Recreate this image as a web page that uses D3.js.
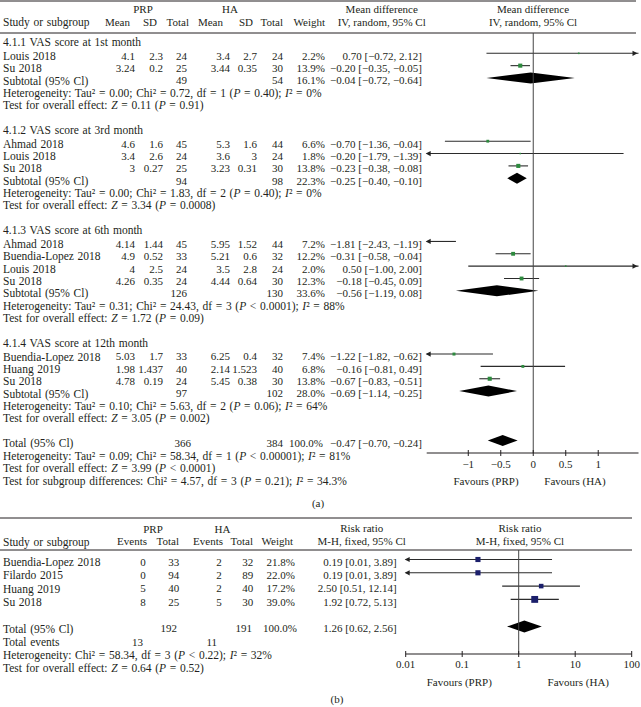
<!DOCTYPE html>
<html>
<head>
<meta charset="utf-8">
<script src="https://cdn.jsdelivr.net/npm/d3@7"></script>
<style>
  body { margin: 0; background: #fff; }
  text { font-family: "Liberation Serif", "Times New Roman", serif; font-size: 11px; fill: #231f20; }
  text.lbl { font-size: 11.5px; word-spacing: 0.8px; }
</style>
</head>
<body>
<svg id="chart" width="641" height="707"></svg>
<script>
// ---------- panel (a): mean difference, VAS ----------
var groupTitles = ["4.1.1 VAS score at 1st month", "4.1.2 VAS score at 3rd month",
                   "4.1.3 VAS score at 6th month", "4.1.4 VAS score at 12th month"];
var studyGroup = [0, 0, 1, 1, 1, 2, 2, 2, 2, 3, 3, 3];
var studyNames = ["Louis 2018", "Su 2018", "Ahmad 2018", "Louis 2018", "Su 2018", "Ahmad 2018",
                  "Buendia-Lopez 2018", "Louis 2018", "Su 2018", "Buendia-Lopez 2018", "Huang 2019", "Su 2018"];
var prpMean = [4.1, 3.24, 4.6, 3.4, 3, 4.14, 4.9, 4, 4.26, 5.03, 1.98, 4.78];
var prpSD   = [2.3, 0.2, 1.6, 2.6, 0.27, 1.44, 0.52, 2.5, 0.35, 1.7, 1.437, 0.19];
var prpN    = [24, 25, 45, 24, 25, 45, 33, 24, 24, 33, 40, 24];
var haMean  = [3.4, 3.44, 5.3, 3.6, 3.23, 5.95, 5.21, 3.5, 4.44, 6.25, 2.14, 5.45];
var haSD    = [2.7, 0.35, 1.6, 3, 0.31, 1.52, 0.6, 2.8, 0.64, 0.4, 1.523, 0.38];
var haN     = [24, 30, 44, 24, 30, 44, 32, 24, 30, 32, 40, 30];
var weights = [2.2, 13.9, 6.6, 1.8, 13.8, 7.2, 12.2, 2.0, 12.3, 7.4, 6.8, 13.8];
var md      = [0.70, -0.20, -0.70, -0.20, -0.23, -1.81, -0.31, 0.50, -0.18, -1.22, -0.16, -0.67];
var mdLo    = [-0.72, -0.35, -1.36, -1.79, -0.38, -2.43, -0.58, -1.00, -0.45, -1.82, -0.81, -0.83];
var mdHi    = [2.12, -0.05, -0.04, 1.39, -0.08, -1.19, -0.04, 2.00, 0.09, -0.62, 0.49, -0.51];
var mdText  = ["0.70 [−0.72, 2.12]", "−0.20 [−0.35, −0.05]", "−0.70 [−1.36, −0.04]", "−0.20 [−1.79, −1.39]",
               "−0.23 [−0.38, −0.08]", "−1.81 [−2.43, −1.19]", "−0.31 [−0.58, −0.04]", "0.50 [−1.00, 2.00]",
               "−0.18 [−0.45, 0.09]", "−1.22 [−1.82, −0.62]", "−0.16 [−0.81, 0.49]", "−0.67 [−0.83, −0.51]"];

var subPrpN   = [49, 94, 126, 97];
var subHaN    = [54, 98, 130, 102];
var subWeight = [16.1, 22.3, 33.6, 28.0];
var subEst    = [-0.04, -0.25, -0.56, -0.69];
var subLo     = [-0.72, -0.40, -1.19, -1.14];
var subHi     = [0.64, -0.10, 0.08, -0.25];
var subText   = ["−0.04 [−0.72, −0.64]", "−0.25 [−0.40, −0.10]", "−0.56 [−1.19, 0.08]", "−0.69 [−1.14, −0.25]"];
var subHet = [
  "Heterogeneity: Tau² = 0.00; Chi² = 0.72, df = 1 (*P* = 0.40); *I*² = 0%",
  "Heterogeneity: Tau² = 0.00; Chi² = 1.83, df = 2 (*P* = 0.40); *I*² = 0%",
  "Heterogeneity: Tau² = 0.31; Chi² = 24.43, df = 3 (*P* < 0.0001); *I*² = 88%",
  "Heterogeneity: Tau² = 0.10; Chi² = 5.63, df = 2 (*P* = 0.06); *I*² = 64%"];
var subTest = [
  "Test for overall effect: *Z* = 0.11 (*P* = 0.91)",
  "Test for overall effect: *Z* = 3.34 (*P* = 0.0008)",
  "Test for overall effect: *Z* = 1.72 (*P* = 0.09)",
  "Test for overall effect: *Z* = 3.05 (*P* = 0.002)"];

var totalA = { prpN: 366, haN: 384, weight: 100.0, est: -0.47, lo: -0.70, hi: -0.24, text: "−0.47 [−0.70, −0.24]" };
var totalANotes = [
  "Heterogeneity: Tau² = 0.09; Chi² = 58.34, df = 1 (*P* < 0.00001); *I*² = 81%",
  "Test for overall effect: *Z* = 3.99 (*P* < 0.0001)",
  "Test for subgroup differences: Chi² = 4.57, df = 3 (*P* = 0.21); *I*² = 34.3%"];
var ticksA = [-1, -0.5, 0, 0.5, 1];

// ---------- panel (b): risk ratio ----------
var rrNames   = ["Buendia-Lopez 2018", "Filardo 2015", "Huang 2019", "Su 2018"];
var prpEvents = [0, 0, 5, 8];
var prpTotal  = [33, 94, 40, 25];
var haEvents  = [2, 2, 2, 5];
var haTotal   = [32, 89, 40, 30];
var rrWeight  = [21.8, 22.0, 17.2, 39.0];
var rr        = [0.19, 0.19, 2.50, 1.92];
var rrLo      = [0.01, 0.01, 0.51, 0.72];
var rrHi      = [3.89, 3.89, 12.14, 5.13];
var totalB = { prpN: 192, haN: 191, weight: 100.0, est: 1.26, lo: 0.62, hi: 2.56, prpEv: 13, haEv: 11 };
var totalBNotes = [
  "Heterogeneity: Chi² = 58.34, df = 3 (*P* < 0.22); *I*² = 32%",
  "Test for overall effect: *Z* = 0.64 (*P* = 0.52)"];
var ticksB = [0.01, 0.1, 1, 10, 100];

var ink = "#231f20";
var svg = d3.select("#chart");

function rich(g, x, y, str, anchor) {
    var t = g.append("text")
        .attr("x", x).attr("y", y).attr("dy", "0.35em")
        .attr("text-anchor", anchor || "start");
    if (!anchor || anchor == "start") t.attr("class", "lbl");
    str.split("*").forEach(function (s, i) {
        if (s) t.append("tspan").style("font-style", i % 2 ? "italic" : "normal").text(s);
    });
    return t;
}
function hline(g, x1, x2, y, w) {
    g.append("line").attr("x1", x1).attr("x2", x2).attr("y1", y).attr("y2", y)
        .attr("stroke", ink).attr("stroke-width", w || 1);
}
function pct(v) { return v.toFixed(1) + "%"; }
function fmt(v) { return String(v); }

// CI line, with arrows where it runs past the axis, plus the weighted square
function ciRow(g, x, y, est, lo, hi, w, color) {
    var d = x.domain(), r = x.range();
    var a = Math.max(lo, d[0]), b = Math.min(hi, d[1]);
    g.append("line").attr("x1", x(a)).attr("x2", x(b)).attr("y1", y).attr("y2", y)
        .attr("stroke", "#2b2b2b").attr("stroke-width", 1.1);
    if (lo <= d[0]) {
        g.append("path").attr("d", "M" + (r[0] - 1) + "," + y + "l5,-2.6v5.2z").attr("fill", "#222");
    }
    if (hi > d[1]) {
        g.append("path").attr("d", "M" + (r[1] - 1) + "," + y + "l-5,-2.6v5.2z").attr("fill", "#222");
    }
    if (est >= d[0] && est <= d[1]) {
        var s = 1.1 * Math.sqrt(w);
        g.append("rect").attr("x", x(est) - s / 2).attr("y", y - s / 2)
            .attr("width", s).attr("height", s).attr("fill", color);
    }
}
function diamond(g, x, y, est, lo, hi, h) {
    g.append("path")
        .attr("d", "M" + x(lo) + "," + y + "L" + x(est) + "," + (y - h / 2) +
                   "L" + x(hi) + "," + y + "L" + x(est) + "," + (y + h / 2) + "Z")
        .attr("fill", "#000");
}

// ================= panel (a) =================
var ga = svg.append("g");
var xA = d3.scaleLinear().domain([-1.64, 1.62]).range([426.7, 638.5]);
var colA = [135, 163, 187, 230, 257, 283, 325];
var mdRight = 422;
var pitch = 12.35, markDy = -2.5;

hline(ga, 0, 636, 1);
hline(ga, 0, 636, 33);
rich(ga, 143, 9, "PRP", "middle");
rich(ga, 230, 9, "HA", "middle");
rich(ga, 3, 22, "Study or subgroup");
[["Mean", 130], ["SD", 157], ["Total", 189], ["Mean", 223], ["SD", 253], ["Total", 283], ["Weight", 325]]
    .forEach(function (h) { rich(ga, h[1], 22, h[0], "end"); });
rich(ga, 381.7, 9, "Mean difference", "middle");
rich(ga, 381.7, 22, "IV, random, 95% Cl", "middle");
rich(ga, 533, 9, "Mean difference", "middle");
rich(ga, 533, 22, "IV, random, 95% Cl", "middle");

var y = 42;
groupTitles.forEach(function (title, gi) {
    rich(ga, 3, y, title);
    y += 13.8;
    studyNames.forEach(function (name, i) {
        if (studyGroup[i] !== gi) return;
        rich(ga, 3, y, name);
        [prpMean[i], prpSD[i], prpN[i], haMean[i], haSD[i], haN[i]].forEach(function (v, k) {
            rich(ga, colA[k], y, fmt(v), "end");
        });
        rich(ga, colA[6], y, pct(weights[i]), "end");
        rich(ga, mdRight, y, mdText[i], "end");
        ciRow(ga, xA, y + markDy, md[i], mdLo[i], mdHi[i], weights[i], "#2d8a3e");
        y += pitch;
    });
    rich(ga, 3, y, "Subtotal (95% Cl)");
    rich(ga, colA[2], y, fmt(subPrpN[gi]), "end");
    rich(ga, colA[5], y, fmt(subHaN[gi]), "end");
    rich(ga, colA[6], y, pct(subWeight[gi]), "end");
    rich(ga, mdRight, y, subText[gi], "end");
    diamond(ga, xA, y + markDy, subEst[gi], subLo[gi], subHi[gi], 11);
    y += pitch;
    rich(ga, 3, y, subHet[gi]);
    y += pitch;
    rich(ga, 3, y, subTest[gi]);
    y += 2 * pitch;
});

rich(ga, 3, y, "Total (95% Cl)");
rich(ga, 191, y, fmt(totalA.prpN), "end");
rich(ga, colA[5], y, fmt(totalA.haN), "end");
rich(ga, 323, y, pct(totalA.weight), "end");
rich(ga, mdRight, y, totalA.text, "end");
diamond(ga, xA, y + markDy, totalA.est, totalA.lo, totalA.hi, 11);
totalANotes.forEach(function (s, i) { rich(ga, 3, y + 12.6 * (i + 1), s); });

var axA = 453;
ga.append("line").attr("x1", xA(0)).attr("x2", xA(0)).attr("y1", 33).attr("y2", axA)
    .attr("stroke", "#444").attr("stroke-width", 1);
hline(ga, xA.range()[0], xA.range()[1], axA, 1.2);
ticksA.forEach(function (t) {
    ga.append("line").attr("x1", xA(t)).attr("x2", xA(t)).attr("y1", axA - 3).attr("y2", axA + 3)
        .attr("stroke", ink).attr("stroke-width", 1);
    rich(ga, xA(t), axA + 11.5, t < 0 ? "−" + Math.abs(t) : String(t), "middle");
});
rich(ga, 486, 481, "Favours (PRP)", "middle");
rich(ga, 575, 481, "Favours (HA)", "middle");
rich(ga, 318, 503, "(a)", "middle");

// ================= panel (b) =================
var gb = svg.append("g");
var xB = d3.scaleLog().domain([0.01, 100]).range([405.7, 631.7]);
var colB = [145.7, 179.3, 221.7, 253.3, 295];
var rrRight = 396.7;

hline(gb, 0, 632, 518);
hline(gb, 0, 632, 550);
rich(gb, 153, 529, "PRP", "middle");
rich(gb, 222.5, 529, "HA", "middle");
rich(gb, 3, 541.5, "Study or subgroup");
[["Events", 147], ["Total", 179], ["Events", 223], ["Total", 253], ["Weight", 293]]
    .forEach(function (h) { rich(gb, h[1], 541.5, h[0], "end"); });
rich(gb, 361.7, 528.5, "Risk ratio", "middle");
rich(gb, 361.7, 541.5, "M-H, fixed, 95% Cl", "middle");
rich(gb, 520, 528.5, "Risk ratio", "middle");
rich(gb, 520, 541.5, "M-H, fixed, 95% Cl", "middle");

var yb = 562, pitchB = 13.3;
rrNames.forEach(function (name, i) {
    var yy = yb + i * pitchB;
    rich(gb, 3, yy, name);
    [prpEvents[i], prpTotal[i], haEvents[i], haTotal[i]].forEach(function (v, k) {
        rich(gb, colB[k], yy, fmt(v), "end");
    });
    rich(gb, colB[4], yy, pct(rrWeight[i]), "end");
    rich(gb, rrRight, yy, rr[i].toFixed(2) + " [" + rrLo[i].toFixed(2) + ", " + rrHi[i].toFixed(2) + "]", "end");
    ciRow(gb, xB, yy - 2.5, rr[i], rrLo[i], rrHi[i], rrWeight[i], "#1b1f6b");
});
var yt = yb + 3 * pitchB + 2 * pitchB;
rich(gb, 3, yt, "Total (95% Cl)");
rich(gb, 177, yt, fmt(totalB.prpN), "end");
rich(gb, 252, yt, fmt(totalB.haN), "end");
rich(gb, 297, yt, pct(totalB.weight), "end");
rich(gb, rrRight, yt, totalB.est.toFixed(2) + " [" + totalB.lo.toFixed(2) + ", " + totalB.hi.toFixed(2) + "]", "end");
diamond(gb, xB, yt - 2, totalB.est, totalB.lo, totalB.hi, 12);
rich(gb, 3, yt + pitchB, "Total events");
rich(gb, 143, yt + pitchB, fmt(totalB.prpEv), "end");
rich(gb, 217, yt + pitchB, fmt(totalB.haEv), "end");
totalBNotes.forEach(function (s, i) { rich(gb, 3, yt + pitchB * (i + 2), s); });

var axB = 654;
gb.append("line").attr("x1", xB(1)).attr("x2", xB(1)).attr("y1", 550).attr("y2", axB)
    .attr("stroke", "#444").attr("stroke-width", 1);
hline(gb, xB.range()[0], xB.range()[1], axB, 1.2);
ticksB.forEach(function (t) {
    gb.append("line").attr("x1", xB(t)).attr("x2", xB(t)).attr("y1", axB - 3).attr("y2", axB + 3)
        .attr("stroke", ink).attr("stroke-width", 1);
    rich(gb, xB(t), axB + 10.5, String(t), "middle");
});
rich(gb, 459.3, 682, "Favours (PRP)", "middle");
rich(gb, 578.3, 682, "Favours (HA)", "middle");
rich(gb, 337, 699, "(b)", "middle");
</script>
</body>
</html>
